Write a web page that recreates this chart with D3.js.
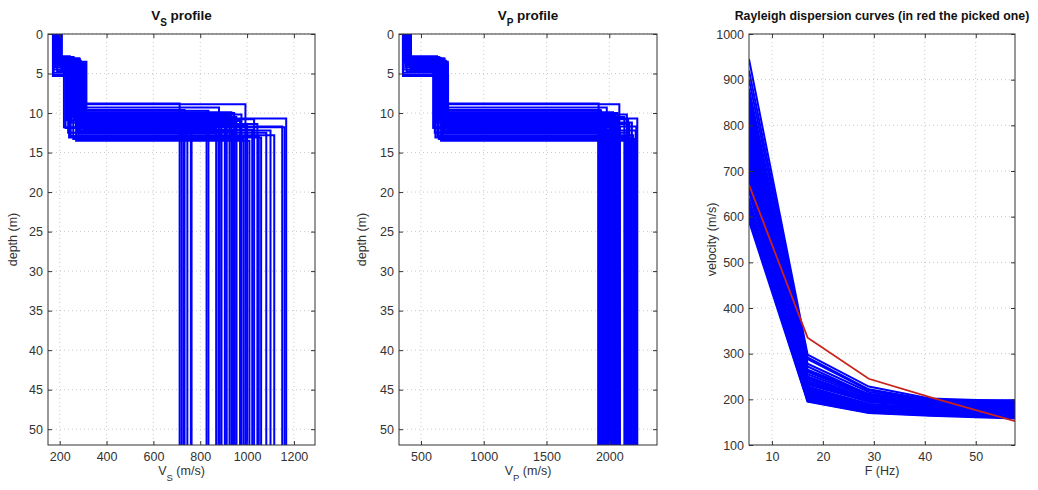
<!DOCTYPE html>
<html><head><meta charset="utf-8">
<script src="https://cdn.jsdelivr.net/npm/d3@7"></script>
<style>
body{margin:0;background:#fff;}
text{font-family:"Liberation Sans",Arial,sans-serif;}
</style></head>
<body><svg id="c" width="1038" height="490"></svg>
<script>
// ---- data ----
const h1 = [3.0,3.4,2.9,4.1,3.2,3.8,4.6,3.1,3.5,5.2,3.3,2.8,4.0,3.6,3.9,3.0,4.4,3.2,3.7,4.9,3.1,3.3,4.2,2.9,3.5,3.8,3.0,4.7,3.4,3.2,5.3,3.6,3.1,4.0,3.3,2.9,3.8,4.5,3.5,3.2];
const z2 = [8.8,10.4,11.2,12.1,9.6,10.9,11.7,12.6,10.2,11.0,13.5,9.9,11.4,12.3,10.7,11.9,8.9,12.8,11.1,10.5,12.0,11.6,10.1,13.1,11.3,12.4,10.8,9.3,11.8,12.2,10.6,11.5,12.9,10.3,11.0,13.3,9.7,12.5,11.4,10.0];
const vs1 = [188,195,176,201,183,192,207,179,198,172,190,185,204,181,196,187,209,178,193,174,200,186,182,197,191,205,177,189,194,203,171,199,184,192,180,206,188,175,202,195];
const vs2 = [262,290,248,305,275,231,298,284,256,312,270,243,301,288,265,225,295,279,307,252,283,269,296,240,314,277,260,292,218,286,303,272,247,299,281,258,310,236,289,274];
const vs3 = [712,827,954,1022,733,912,1150,869,976,763,1010,933,1044,890,1167,720,993,1116,745,954,869,1000,912,1060,728,940,1030,880,1160,1100,905,760,1050,925,970,985,835,1082,890,945];
const vp1 = [372,395,360,410,381,399,418,366,403,358,388,377,414,369,400,385,420,363,391,356,408,383,375,402,390,416,361,386,397,412,357,405,379,393,368,417,384,359,411,398];
const vp2 = [655,700,620,712,668,605,695,680,640,716,660,628,705,685,650,598,698,672,710,635,688,664,702,615,714,676,645,692,600,683,708,670,630,697,679,642,713,610,690,666];
const vp3 = [1915,2050,2180,2010,1930,2070,2215,1960,2140,1925,2200,2030,2160,1990,2223,1912,2080,2190,1945,2120,1970,2060,2000,2170,1920,2040,2150,1980,2085,2210,2020,1950,2130,2045,2075,2205,1935,2155,2005,2065];
const freq = [5.5,17,29,41,57.7];
const dispCurves = [
[945,298,228,202,196],[870,272,210,192,188],[805,238,196,183,179],[745,215,182,174,170],
[690,202,176,169,165],[620,198,172,166,162],[840,255,205,190,186],[780,225,190,180,176],
[715,208,180,172,168],[655,200,174,168,164],[900,288,220,198,193],[830,248,200,188,184],
[760,220,186,177,173],[600,196,171,165,160],[860,265,212,196,195],[795,232,195,186,190],
[730,212,183,176,180],[670,203,177,170,172],[815,244,199,189,193],[750,218,185,178,182],
[590,195,170,164,158],[880,278,216,197,197],[700,206,179,173,176],[640,199,173,167,166],
[850,260,208,194,196],[770,228,190,182,185],[725,210,181,175,178],[680,204,178,171,170],
[610,197,172,166,163],[825,250,202,190,194],[790,235,194,185,189],[740,216,184,177,181],
[660,201,175,169,167],[920,292,222,199,197],[800,240,197,187,191],[710,207,180,174,177],
[630,199,173,167,165],[855,262,209,195,198],[765,222,187,179,183],[685,205,177,171,174]];
const pickedCurve = [670,335,245,205,152];
const vsTicks = [200,400,600,800,1000,1200];
const vpTicks = [500,1000,1500,2000];
const depthTicks = [0,5,10,15,20,25,30,35,40,45,50];
const fTicks = [10,20,30,40,50];
const velTicks = [100,200,300,400,500,600,700,800,900,1000];

// ---- drawing ----
const svg = d3.select("#c");
const yTop = 34, yBot = 445;
const axCol = "#333", txtCol = "#333";
const fmt = d3.format("d");

function panel(id, x0, x1, xDom, yDom, yRange, xTicks, yTicks) {
  const g = svg.append("g");
  const x = d3.scaleLinear().domain(xDom).range([x0, x1]);
  const y = d3.scaleLinear().domain(yDom).range(yRange);
  g.append("clipPath").attr("id", "clip" + id).append("rect")
    .attr("x", x0).attr("y", yTop).attr("width", x1 - x0).attr("height", yBot - yTop);
  g.append("g").selectAll("line").data(xTicks).join("line")
    .attr("x1", d => x(d)).attr("x2", d => x(d)).attr("y1", yTop).attr("y2", yBot)
    .attr("stroke", "#bbb").attr("stroke-width", 0.8).attr("stroke-dasharray", "1,3");
  g.append("g").selectAll("line").data(yTicks).join("line")
    .attr("y1", d => y(d)).attr("y2", d => y(d)).attr("x1", x0).attr("x2", x1)
    .attr("stroke", "#bbb").attr("stroke-width", 0.8).attr("stroke-dasharray", "1,3");
  const plot = g.append("g").attr("clip-path", "url(#clip" + id + ")");
  const frame = g.append("g");
  const axB = d3.axisBottom(x).tickValues(xTicks).tickFormat(fmt).tickSizeInner(-4).tickSizeOuter(0).tickPadding(7);
  const axT = d3.axisTop(x).tickValues(xTicks).tickSizeInner(-4).tickSizeOuter(0).tickFormat("");
  const axL = d3.axisLeft(y).tickValues(yTicks).tickFormat(fmt).tickSizeInner(-4).tickSizeOuter(0).tickPadding(5);
  const axR = d3.axisRight(y).tickValues(yTicks).tickSizeInner(-4).tickSizeOuter(0).tickFormat("");
  frame.append("g").attr("transform", `translate(0,${yBot})`).call(axB);
  frame.append("g").attr("transform", `translate(0,${yTop})`).call(axT);
  frame.append("g").attr("transform", `translate(${x0},0)`).call(axL);
  frame.append("g").attr("transform", `translate(${x1},0)`).call(axR);
  frame.selectAll(".domain").remove();
  frame.selectAll("line").attr("stroke", axCol);
  frame.selectAll("text").attr("fill", txtCol).attr("font-size", 12.5)
    .attr("font-family", "'Liberation Sans',Arial,sans-serif");
  frame.append("rect").attr("x", x0).attr("y", yTop).attr("width", x1 - x0).attr("height", yBot - yTop)
    .attr("fill", "none").attr("stroke", axCol).attr("stroke-width", 1);
  return {g, x, y, plot};
}

function stepPts(a, b, c, d1, d2, maxD) {
  return [[a,0],[a,d1],[b,d1],[b,d2],[c,d2],[c,maxD]];
}

// Panel 1 - Vs
const P1 = panel("vs", 48, 315, [150, 1290], [0, 52], [yTop, yBot], vsTicks, depthTicks);
const line1 = d3.line().x(d => P1.x(d[0])).y(d => P1.y(d[1]));
P1.plot.selectAll("path").data(vs1.map((v, i) => stepPts(v, vs2[i], vs3[i], h1[i], z2[i], 52)))
  .join("path").attr("d", line1).attr("fill", "none").attr("stroke", "#0000ff").attr("stroke-width", 2);

// Panel 2 - Vp
const P2 = panel("vp", 399, 657, [325, 2380], [0, 52], [yTop, yBot], vpTicks, depthTicks);
const line2 = d3.line().x(d => P2.x(d[0])).y(d => P2.y(d[1]));
P2.plot.selectAll("path").data(vp1.map((v, i) => stepPts(v, vp2[i], vp3[i], h1[i], z2[i], 52)))
  .join("path").attr("d", line2).attr("fill", "none").attr("stroke", "#0000ff").attr("stroke-width", 2);

// Panel 3 - dispersion
const P3 = panel("disp", 749, 1015, [5.5, 57.7], [100, 1000], [yBot, yTop], fTicks, velTicks);
const line3 = d3.line().x((d, i) => P3.x(freq[i])).y(d => P3.y(d));
P3.plot.selectAll("path.b").data(dispCurves).join("path").attr("class", "b")
  .attr("d", line3).attr("fill", "none").attr("stroke", "#0000ff").attr("stroke-width", 2);
P3.plot.append("path").attr("d", line3(pickedCurve)).attr("fill", "none")
  .attr("stroke", "#c8241c").attr("stroke-width", 1.8);

// Titles and labels
function title(cx, parts, size) {
  const t = svg.append("text").attr("x", cx).attr("y", 20).attr("text-anchor", "middle")
    .attr("font-size", size).attr("font-weight", "bold").attr("fill", "#111");
  parts.forEach(p => {
    const s = t.append("tspan").text(p.t);
    if (p.sub) s.attr("baseline-shift", "sub").attr("font-size", 10);
  });
}
title((48 + 315) / 2, [{t: "V"}, {t: "S", sub: true}, {t: " profile"}], 13.5);
title((399 + 657) / 2, [{t: "V"}, {t: "P", sub: true}, {t: " profile"}], 13.5);
title((749 + 1015) / 2, [{t: "Rayleigh dispersion curves (in red the picked one)"}], 12.3);

function xlabel(cx, parts) {
  const t = svg.append("text").attr("x", cx).attr("y", 475).attr("text-anchor", "middle")
    .attr("font-size", 12.5).attr("fill", txtCol);
  parts.forEach(p => {
    const s = t.append("tspan").text(p.t);
    if (p.sub) s.attr("baseline-shift", "sub").attr("font-size", 9.5);
  });
}
xlabel((48 + 315) / 2, [{t: "V"}, {t: "S", sub: true}, {t: " (m/s)"}]);
xlabel((399 + 657) / 2, [{t: "V"}, {t: "P", sub: true}, {t: " (m/s)"}]);
xlabel((749 + 1015) / 2, [{t: "F (Hz)"}]);

function ylabel(x, txt) {
  svg.append("text").attr("transform", `translate(${x},${(yTop + yBot) / 2}) rotate(-90)`)
    .attr("text-anchor", "middle").attr("font-size", 12.5).attr("fill", txtCol).text(txt);
}
ylabel(17, "depth (m)");
ylabel(366, "depth (m)");
ylabel(716, "velocity (m/s)");
</script>
</body></html>
